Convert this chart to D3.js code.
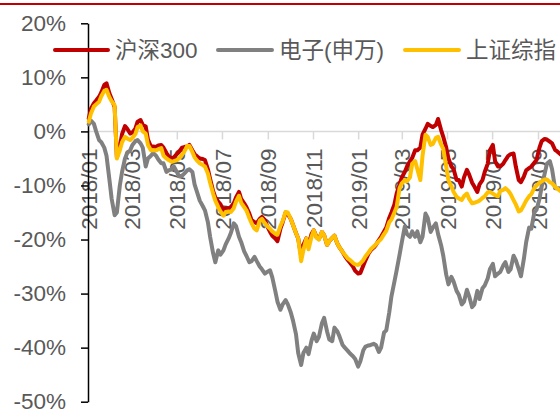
<!DOCTYPE html>
<html>
<head>
<meta charset="utf-8">
<script src="https://cdn.jsdelivr.net/npm/d3@7/dist/d3.min.js"></script>
<style>
  html, body { margin: 0; padding: 0; background: #fff; }
  svg { display: block; }
  text { font-family: "Liberation Sans", Arial, sans-serif; }
  .cjk { font-family: "Liberation Sans", "Noto Sans CJK SC", sans-serif; }
</style>
</head>
<body>
<div id="chart"></div>
<script>
// Cumulative returns (%) since the end of 2017, sampled on the first trading day
// and then every Tuesday and Friday
const startDate = "2018-01-02";
const sampleFrom = "2018-01-05";
const sampleTo = "2019-10-05";

const seriesNames = ["沪深300", "电子(申万)", "上证综指"];
const seriesColors = ["#C00000", "#808080", "#FFC000"];

const hs300 = [
  2.4,
  4.2, 5.2, 5.7, 6.4, 7.2, 8.6, 8.9, 7.0, 6.0, 4.5,
  -4.8, -2.8, -0.5, 1.0, 0.5, -0.4, -0.2, 0.5, 1.8, 2.1,
  1.2, 0.9, -1.5, -2.8, -2.8, -2.9, -2.6, -2.5, -3.0, -4.0,
  -4.6, -5.0, -4.8, -4.2, -3.8, -3.0, -2.9, -2.8, -2.5, -3.5,
  -4.2, -4.7, -5.0, -5.1, -5.3, -7.0, -8.8, -11.0, -12.2, -13.0,
  -13.5, -14.6, -14.2, -14.2, -14.0, -13.3, -12.2, -11.2, -12.5, -13.3,
  -14.0, -15.2, -16.4, -16.8, -17.0, -16.2, -15.8, -16.4, -17.5, -18.6,
  -19.3, -19.8, -20.3, -18.0, -16.8, -15.0, -15.3, -16.2, -17.3, -18.8,
  -19.8, -23.0, -21.0, -19.8, -21.0, -19.0, -18.3, -19.6, -19.9, -18.6,
  -19.2, -21.0, -20.3, -19.7, -19.3, -20.8, -21.5, -22.3, -23.0, -23.8,
  -24.3, -25.0, -25.8, -26.3, -26.2, -24.8, -23.8, -22.6, -22.0, -21.5,
  -21.0, -20.1, -19.5, -18.5, -17.8, -16.0, -15.0, -13.5, -11.5, -9.8,
  -8.5, -7.5, -6.5, -5.5, -4.9, -3.5, -3.5, -3.0, -0.6, 0.5,
  1.4, 1.0, 0.8, 1.2, 2.3, 0.3, -1.0, -3.0, -5.0, -6.5,
  -7.0, -9.0, -9.0, -10.2, -8.5, -7.1, -8.0, -9.5, -10.2, -11.2,
  -9.8, -9.0, -7.5, -6.0, -3.5, -2.5, -5.5, -6.5, -6.5, -6.0,
  -5.3, -4.5, -4.2, -4.1, -6.5, -9.0, -9.4, -8.3, -7.2, -6.8,
  -6.5, -5.8, -5.3, -3.0, -1.8, -1.4, -1.5, -1.9, -2.2, -3.4,
  -3.7, -4.2, -4.5
];

const electronics = [
  1.3,
  2.0, 1.4, 0.0, -1.6, -2.0, -3.0, -4.5, -9.0, -12.5, -15.5,
  -15.0, -10.0, -7.5, -5.0, -4.0, -3.5, -2.5, -1.8, -1.6, -2.2,
  -3.0, -6.5, -5.0, -4.5, -4.0, -4.5, -5.2, -5.9, -5.9, -7.5,
  -7.2, -7.0, -6.5, -7.5, -8.3, -8.2, -7.8, -7.2, -7.0, -7.5,
  -9.8, -11.5, -12.8, -13.8, -14.6, -16.8, -19.5, -22.5, -24.2, -22.0,
  -22.8, -22.0, -20.9, -19.8, -18.8, -17.0, -17.5, -19.5, -20.5, -22.2,
  -23.0, -24.2, -24.0, -23.2, -24.0, -25.0, -25.5, -26.3, -26.0, -25.7,
  -27.0, -29.5, -31.5, -33.0, -32.0, -31.2, -32.0, -33.5, -35.0, -37.5,
  -41.0, -43.2, -41.0, -40.0, -41.2, -38.7, -37.4, -38.8, -38.0, -35.5,
  -34.5, -37.0, -38.5, -38.8, -36.3, -37.0, -38.0, -39.5, -40.0, -40.6,
  -41.1, -41.6, -42.1, -43.5, -42.5, -40.5, -39.8, -39.6, -39.5, -39.3,
  -39.5, -40.8, -40.0, -37.2, -36.8, -33.5, -30.5, -27.8, -25.7, -22.8,
  -20.5, -17.6, -19.0, -19.5, -18.5, -19.5, -18.5, -20.5, -19.5, -15.2,
  -16.0, -18.6, -17.8, -17.0, -19.0, -21.0, -23.0, -26.5, -28.3, -26.9,
  -27.8, -29.5, -30.2, -32.0, -31.5, -29.3, -30.5, -32.5, -32.0, -29.5,
  -31.0, -29.0, -28.5, -27.2, -25.5, -24.5, -26.8, -26.3, -26.0, -24.8,
  -24.2, -26.0, -25.5, -23.0, -23.8, -25.5, -26.8, -23.5, -20.5, -17.8,
  -18.0, -15.0, -14.5, -12.5, -10.2, -7.8, -6.0, -5.5, -7.0, -10.5,
  -10.5, -10.5, -11.0
];

const sse = [
  1.8,
  3.3, 4.6, 5.0, 5.5, 6.5, 7.5, 7.7, 6.3, 5.6, 4.8,
  -5.0, -3.5, -2.0, -1.0, -1.3, -1.6, -1.2, -0.5, 0.8, 1.1,
  0.0, -0.4, -2.5, -3.5, -3.5, -3.5, -3.3, -3.1, -4.5, -5.0,
  -5.3, -5.6, -5.5, -5.3, -5.0, -4.3, -3.8, -2.7, -2.7, -3.8,
  -4.8, -5.5, -5.9, -6.2, -6.5, -7.8, -9.5, -11.5, -12.8, -14.0,
  -14.8, -15.6, -14.9, -14.8, -14.9, -14.2, -13.0, -11.9, -13.2, -14.0,
  -14.6, -16.0, -17.0, -18.0, -18.3, -16.5, -16.2, -17.0, -17.5, -18.0,
  -18.5, -18.9, -19.1, -17.5, -16.6, -14.9, -15.0, -16.2, -17.3, -18.8,
  -19.8, -24.0, -22.0, -19.8, -21.8, -19.5, -18.3, -19.7, -20.0, -18.6,
  -19.2, -21.0, -20.3, -19.7, -19.3, -20.8, -21.5, -22.3, -22.8, -23.5,
  -23.8, -24.3, -24.6, -24.7, -24.4, -23.8, -23.1, -22.4, -21.8, -21.3,
  -20.9, -20.3, -19.9, -19.0, -18.4, -16.8, -16.3, -15.0, -14.0, -10.5,
  -9.6, -9.0, -9.2, -8.5, -6.0, -5.5, -7.0, -9.0, -4.5, -0.6,
  -1.0, -2.5, -2.3, -1.2, -1.0, -2.4, -3.2, -6.5, -9.0, -10.2,
  -11.2, -12.1, -12.4, -12.7, -12.0, -11.5, -12.5, -13.3, -13.2, -13.0,
  -12.8, -12.3, -12.0, -11.3, -11.2, -11.5, -11.8, -12.0, -11.0, -10.8,
  -10.5, -11.0, -11.6, -12.7, -13.5, -14.8, -14.6, -13.6, -12.8, -12.0,
  -11.6, -10.5, -10.0, -9.5, -9.2, -8.9, -8.9, -9.4, -9.6, -10.2,
  -10.6, -11.0, -11.3
];

const yTicks = [20, 10, 0, -10, -20, -30, -40, -50];

const parse = d3.timeParse("%Y-%m-%d");
const dates = [parse(startDate)].concat(
  d3.timeFriday.range(parse(sampleFrom), parse(sampleTo))
    .concat(d3.timeTuesday.range(parse(sampleFrom), parse(sampleTo)))
    .sort((a, b) => a - b)
);
const seriesValues = [hs300, electronics, sse];

const W = 560, H = 412;
const svg = d3.select("#chart").append("svg")
  .attr("width", W).attr("height", H);

svg.append("rect").attr("width", W).attr("height", H).attr("fill", "#fff");

// decorative rule across the top
svg.append("rect").attr("x", 0).attr("y", 3).attr("width", W).attr("height", 2)
  .attr("fill", "#C00000");

const x = d3.scaleTime()
  .domain([new Date(2018, 0, 1), new Date(2019, 8, 1)])
  .range([88, 538]);
const y = d3.scaleLinear().domain([-50, 20]).range([401.7, 23.3]);

const fontSize = 22.5;
const textColor = "#595959";

// horizontal date axis sitting on the 0% line
const xAxis = d3.axisBottom(x)
  .ticks(d3.timeMonth.every(2))
  .tickFormat(d3.timeFormat("%Y/%m"))
  .tickSizeInner(8).tickSizeOuter(0);

const gx = svg.append("g")
  .attr("transform", `translate(0,${y(0)})`)
  .call(xAxis);
gx.select(".domain").attr("stroke", "#D9D9D9").attr("stroke-width", 1.5)
  .attr("d", `M88,0H${W}`);
gx.selectAll(".tick line").attr("stroke", "#D9D9D9").attr("stroke-width", 1.5);
gx.selectAll(".tick text")
  .attr("fill", textColor)
  .style("font-size", fontSize + "px")
  .attr("text-anchor", "end")
  .attr("y", 0).attr("dy", "0.36em")
  .attr("transform", "translate(0,17) rotate(-90)");

// vertical percentage axis
const yAxis = d3.axisLeft(y)
  .tickValues(yTicks)
  .tickFormat(d => d + "%")
  .tickSizeInner(7).tickSizeOuter(0).tickPadding(15);

const gy = svg.append("g")
  .attr("transform", "translate(88,0)")
  .call(yAxis);
gy.select(".domain").attr("stroke", "#000").attr("stroke-width", 1.5);
gy.selectAll(".tick line").attr("stroke", "#000").attr("stroke-width", 1.5);
gy.selectAll(".tick text")
  .attr("fill", textColor)
  .style("font-size", fontSize + "px");

// series lines
const line = d3.line()
  .x((d, i) => x(dates[i]))
  .y(d => y(d));

seriesValues.forEach((vals, k) => {
  svg.append("path")
    .datum(vals)
    .attr("fill", "none")
    .attr("stroke", seriesColors[k])
    .attr("stroke-width", 4)
    .attr("stroke-linejoin", "round")
    .attr("stroke-linecap", "round")
    .attr("d", line);
});

// legend
const legendY = 50;
const legendItems = [
  { x0: 55, x1: 108, tx: 115 },
  { x0: 218, x1: 272, tx: 279 },
  { x0: 405, x1: 459, tx: 466 }
];
legendItems.forEach((it, k) => {
  svg.append("line")
    .attr("x1", it.x0).attr("x2", it.x1)
    .attr("y1", legendY).attr("y2", legendY)
    .attr("stroke", seriesColors[k]).attr("stroke-width", 4)
    .attr("stroke-linecap", "round");
  svg.append("text")
    .attr("class", "cjk")
    .attr("x", it.tx).attr("y", legendY)
    .attr("dy", "0.35em")
    .attr("fill", textColor)
    .style("font-size", fontSize + "px")
    .text(seriesNames[k]);
});
</script>
</body>
</html>
